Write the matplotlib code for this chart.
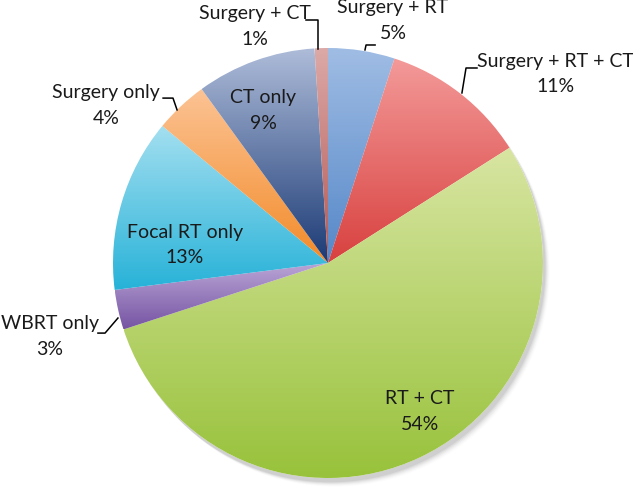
import matplotlib
matplotlib.use('Agg')
import numpy as np
import matplotlib.pyplot as plt
from matplotlib.colors import LinearSegmentedColormap

# data, clockwise from 12 o'clock
labels = ["Surgery + RT", "Surgery + RT + CT", "RT + CT", "WBRT only",
          "Focal RT only", "Surgery only", "CT only", "Surgery + CT"]
shares = [5, 11, 54, 3, 13, 4, 9, 1]
topColours = ["#a0bde4", "#f39a99", "#d8e5a2", "#baa6d6", "#a3dff0", "#fcc394", "#aebcd9", "#dcaaa8"]
botColours = ["#5587c8", "#d8413f", "#98c23b", "#7654a3", "#27b2d8", "#f28b29", "#1b3a75", "#b35855"]

# label centres in pie units (radius = 1)
labelPos = {
    "Surgery + RT": (0.302, 1.128),
    "Surgery + RT + CT": (1.056, 0.879),
    "RT + CT": (0.428, -0.691),
    "WBRT only": (-1.295, -0.342),
    "Focal RT only": (-0.665, 0.084),
    "Surgery only": (-1.033, 0.733),
    "CT only": (-0.302, 0.709),
    "Surgery + CT": (-0.34, 1.1),
}
leaders = {
    "Surgery + RT": [(0.172, 0.991), (0.177, 1.014), (0.219, 1.014)],
    "Surgery + RT + CT": [(0.623, 0.791), (0.642, 0.907), (0.693, 0.907)],
    "WBRT only": [(-1.07, -0.326), (-1.037, -0.326), (-0.977, -0.256)],
    "Surgery only": [(-0.767, 0.767), (-0.721, 0.767), (-0.702, 0.712)],
    "Surgery + CT": [(-0.102, 1.13), (-0.047, 1.13), (-0.047, 0.995)],
}

fig = plt.figure(figsize=(6.33, 4.90), dpi=100)
ax = fig.add_axes([0, 0, 1, 1])

# soft shadow
for i, a in enumerate(np.linspace(0.05, 0.012, 6)):
    ax.add_patch(plt.Circle((0.012 + i * 0.004, -0.02 - i * 0.004), 1.0, color='black', alpha=a, lw=0, zorder=0))
ax.add_patch(plt.Circle((0, 0), 1.0, color='white', lw=0, zorder=0.5))

wedges, _ = ax.pie(shares, startangle=90, counterclock=False, radius=1.0,
                   wedgeprops=dict(linewidth=0), center=(0, 0), frame=False)

for w, lab, val, c1, c2 in zip(wedges, labels, shares, topColours, botColours):
    w.set_facecolor('none')
    bb = w.get_path().get_extents(w.get_patch_transform())
    cmap = LinearSegmentedColormap.from_list(lab, [c2, c1])
    grad = np.linspace(0, 1, 256).reshape(-1, 1)
    im = ax.imshow(grad, cmap=cmap, origin='lower', aspect='auto',
                   extent=[bb.x0, bb.x1, bb.y0, bb.y1], zorder=1, interpolation='bilinear')
    im.set_clip_path(w)

    x, y = labelPos[lab]
    ax.text(x, y, f"{lab}\n{val}%", ha='center', va='center',
            fontsize=14, family=['Lato', 'DejaVu Sans'], color='#1a1a1a',
            linespacing=1.6, zorder=3)
    if lab in leaders:
        xs, ys = zip(*leaders[lab])
        ax.plot(xs, ys, color='black', lw=1.1, zorder=3)

ax.set_xlim(-328 / 215, (633 - 328) / 215)
ax.set_ylim((263 - 490) / 215, 263 / 215)
ax.set_aspect('equal')
ax.axis('off')
fig.savefig('out.png', dpi=100)
